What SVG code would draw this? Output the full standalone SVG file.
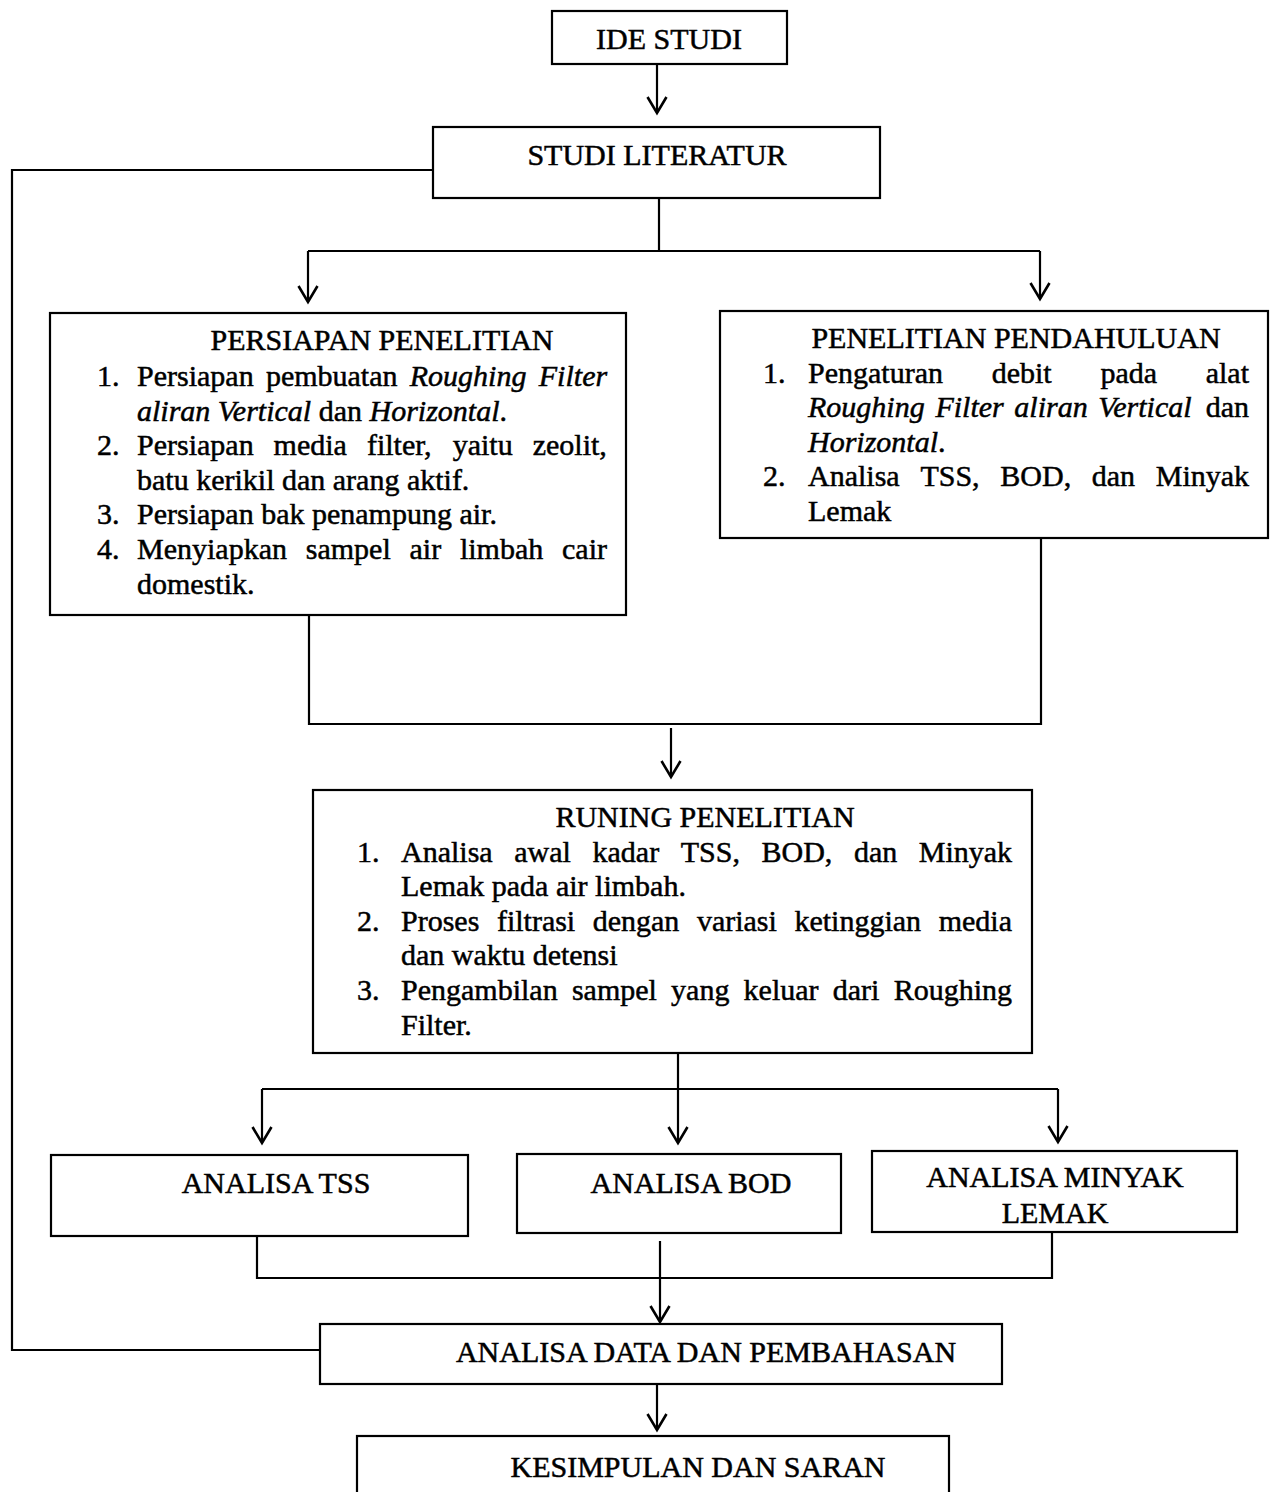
<svg xmlns="http://www.w3.org/2000/svg" width="1277" height="1492" viewBox="0 0 1277 1492">
<style>
  .box { fill: #fff; stroke: #000; stroke-width: 2.2; }
  .ln { fill: none; stroke: #000; stroke-width: 2.2; }
  .arr { fill: none; stroke: #000; stroke-width: 2.2; marker-end: url(#ah); }
  text { font-family: "Liberation Serif", "Times New Roman", serif; font-size: 30px; fill: #000; stroke: #000; stroke-width: 0.5; }
  .c { text-anchor: middle; }
  .i { font-style: italic; }
</style>
<defs>
  <marker id="ah" markerUnits="userSpaceOnUse" markerWidth="40" markerHeight="40" viewBox="-20 -20 40 40" refX="0" refY="0" orient="auto" overflow="visible">
    <path d="M-16,-9.5 L0,0 L-16,9.5" fill="none" stroke="#000" stroke-width="2.6"/>
  </marker>
</defs>
<rect width="1277" height="1492" fill="#fff"/>

<g id="connectors">
  <line class="arr" x1="657" y1="64" x2="657" y2="113"/>
  <polyline class="ln" points="433,170 12,170 12,1350 320,1350"/>
  <line class="ln" x1="659" y1="198" x2="659" y2="251"/>
  <line class="ln" x1="308" y1="251" x2="1040" y2="251"/>
  <line class="arr" x1="308" y1="251" x2="308" y2="302"/>
  <line class="arr" x1="1040" y1="251" x2="1040" y2="299"/>
  <polyline class="ln" points="309,615 309,724 1041,724 1041,538"/>
  <line class="arr" x1="671" y1="728" x2="671" y2="777"/>
  <line class="ln" x1="678" y1="1053" x2="678" y2="1089"/>
  <line class="ln" x1="262" y1="1089" x2="1058" y2="1089"/>
  <line class="arr" x1="262" y1="1089" x2="262" y2="1143"/>
  <line class="arr" x1="678" y1="1089" x2="678" y2="1143"/>
  <line class="arr" x1="1058" y1="1089" x2="1058" y2="1142"/>
  <polyline class="ln" points="257,1236 257,1278 1052,1278 1052,1232"/>
  <line class="arr" x1="660" y1="1241" x2="660" y2="1322"/>
  <line class="arr" x1="657" y1="1384" x2="657" y2="1430"/>
</g>

<g id="ide-studi">
  <rect class="box" x="552" y="11" width="235" height="53"/>
  <text class="c" x="669" y="49">IDE STUDI</text>
</g>

<g id="studi-literatur">
  <rect class="box" x="433" y="127" width="447" height="71"/>
  <text class="c" x="657" y="165">STUDI LITERATUR</text>
</g>

<g id="persiapan-penelitian">
  <rect class="box" x="50" y="313" width="576" height="302"/>
  <text class="c" x="382" y="350">PERSIAPAN PENELITIAN</text>
  <text x="97" y="386">1.</text>
  <text y="386"><tspan x="137">Persiapan</tspan><tspan x="265.9">pembuatan</tspan><tspan x="409.8" class="i">Roughing</tspan><tspan x="538.8" class="i">Filter</tspan></text>
  <text x="137" y="421"><tspan class="i">aliran Vertical</tspan> dan <tspan class="i">Horizontal</tspan>.</text>
  <text x="97" y="455">2.</text>
  <text y="455"><tspan x="137">Persiapan</tspan><tspan x="273.6">media</tspan><tspan x="366.9">filter,</tspan><tspan x="452.7">yaitu</tspan><tspan x="532.7">zeolit,</tspan></text>
  <text x="137" y="490">batu kerikil dan arang aktif.</text>
  <text x="97" y="524">3.</text>
  <text x="137" y="524">Persiapan bak penampung air.</text>
  <text x="97" y="559">4.</text>
  <text y="559"><tspan x="137">Menyiapkan</tspan><tspan x="305.8">sampel</tspan><tspan x="409.5">air</tspan><tspan x="459.9">limbah</tspan><tspan x="562">cair</tspan></text>
  <text x="137" y="594">domestik.</text>
</g>

<g id="penelitian-pendahuluan">
  <rect class="box" x="720" y="311" width="548" height="227"/>
  <text class="c" x="1016" y="348">PENELITIAN PENDAHULUAN</text>
  <text x="763" y="383">1.</text>
  <text y="383"><tspan x="808">Pengaturan</tspan><tspan x="991.7">debit</tspan><tspan x="1100.4">pada</tspan><tspan x="1205.7">alat</tspan></text>
  <text y="417"><tspan x="808" class="i">Roughing</tspan><tspan x="935.4" class="i">Filter</tspan><tspan x="1014.3" class="i">aliran</tspan><tspan x="1098.3" class="i">Vertical</tspan><tspan x="1205.7">dan</tspan></text>
  <text x="808" y="452"><tspan class="i">Horizontal</tspan>.</text>
  <text x="763" y="486">2.</text>
  <text y="486"><tspan x="808">Analisa</tspan><tspan x="920.4">TSS,</tspan><tspan x="1000.3">BOD,</tspan><tspan x="1091.8">dan</tspan><tspan x="1155.8">Minyak</tspan></text>
  <text x="808" y="521">Lemak</text>
</g>

<g id="runing-penelitian">
  <rect class="box" x="313" y="790" width="719" height="263"/>
  <text class="c" x="705" y="827">RUNING PENELITIAN</text>
  <text x="357" y="862">1.</text>
  <text y="862"><tspan x="401">Analisa</tspan><tspan x="514.3">awal</tspan><tspan x="592.5">kadar</tspan><tspan x="680.7">TSS,</tspan><tspan x="761.5">BOD,</tspan><tspan x="853.9">dan</tspan><tspan x="918.8">Minyak</tspan></text>
  <text x="401" y="896">Lemak pada air limbah.</text>
  <text x="357" y="931">2.</text>
  <text y="931"><tspan x="401">Proses</tspan><tspan x="496.9">filtrasi</tspan><tspan x="592.7">dengan</tspan><tspan x="696.9">variasi</tspan><tspan x="794.4">ketinggian</tspan><tspan x="938.7">media</tspan></text>
  <text x="401" y="965">dan waktu detensi</text>
  <text x="357" y="1000">3.</text>
  <text y="1000"><tspan x="401">Pengambilan</tspan><tspan x="571.9">sampel</tspan><tspan x="671.1">yang</tspan><tspan x="743.6">keluar</tspan><tspan x="832.8">dari</tspan><tspan x="893.7">Roughing</tspan></text>
  <text x="401" y="1035">Filter.</text>
</g>

<g id="analisa-tss">
  <rect class="box" x="51" y="1155" width="417" height="81"/>
  <text class="c" x="276" y="1193">ANALISA TSS</text>
</g>

<g id="analisa-bod">
  <rect class="box" x="517" y="1154" width="324" height="79"/>
  <text class="c" x="691" y="1193">ANALISA BOD</text>
</g>

<g id="analisa-minyak-lemak">
  <rect class="box" x="872" y="1151" width="365" height="81"/>
  <text class="c" x="1055" y="1187">ANALISA MINYAK</text>
  <text class="c" x="1055" y="1223">LEMAK</text>
</g>

<g id="analisa-data">
  <rect class="box" x="320" y="1324" width="682" height="60"/>
  <text class="c" x="706" y="1362">ANALISA DATA DAN PEMBAHASAN</text>
</g>

<g id="kesimpulan">
  <rect class="box" x="357" y="1436" width="592" height="80"/>
  <text class="c" x="698" y="1477">KESIMPULAN DAN SARAN</text>
</g>
</svg>
